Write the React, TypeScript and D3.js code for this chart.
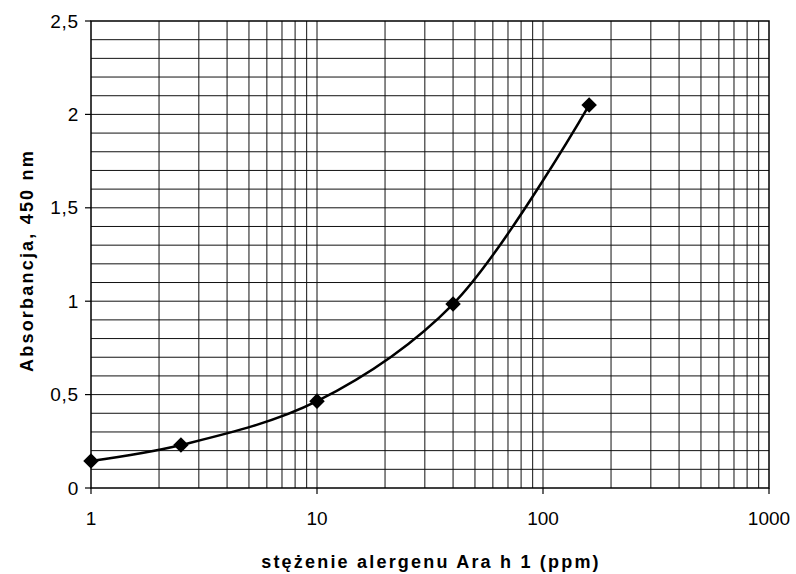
import * as d3 from "d3";

const concentration = [1, 2.5, 10, 40, 160];
const absorbance = [0.145, 0.23, 0.465, 0.985, 2.05];
const yTicks = [0, 0.5, 1, 1.5, 2, 2.5];
const xTicks = [1, 10, 100, 1000];

const W = 796;
const H = 574;
const M = { left: 91, right: 27, top: 21, bottom: 86 };

export default function App() {
  const x = d3.scaleLog().domain([1, 1000]).range([M.left, W - M.right]);
  const y = d3.scaleLinear().domain([0, 2.5]).range([H - M.bottom, M.top]);

  // minor log gridlines 2..9 in each decade, plus horizontal every 0.1
  const minorX: number[] = [];
  for (const d of [1, 10, 100]) for (let k = 2; k <= 9; k++) minorX.push(d * k);
  const minorY = d3.range(1, 25).map((i) => i / 10);

  const path = d3
    .line<number>()
    .x((_, i) => x(concentration[i]))
    .y((v) => y(v))
    .curve(d3.curveCatmullRom.alpha(0.5))(absorbance);

  const fmt = (v: number) => String(v).replace(".", ",");
  const font = "'Liberation Sans', Arial, sans-serif";

  return (
    <svg width={W} height={H} style={{ position: "absolute", left: 0, top: 0, background: "#fff" }}>
      <g stroke="#111" strokeWidth={1}>
        {minorX.map((v) => (
          <line key={"vx" + v} x1={x(v)} x2={x(v)} y1={y(0)} y2={y(2.5)} />
        ))}
        {[10, 100].map((v) => (
          <line key={"mx" + v} x1={x(v)} x2={x(v)} y1={y(0)} y2={y(2.5)} />
        ))}
        {minorY.map((v) => (
          <line key={"hy" + v} x1={x(1)} x2={x(1000)} y1={y(v)} y2={y(v)} />
        ))}
      </g>
      <rect x={x(1)} y={y(2.5)} width={x(1000) - x(1)} height={y(0) - y(2.5)} fill="none" stroke="#000" strokeWidth={1.5} />
      <g stroke="#000" strokeWidth={1.2}>
        {yTicks.map((v) => (
          <line key={"ty" + v} x1={x(1) - 6} x2={x(1)} y1={y(v)} y2={y(v)} />
        ))}
        {xTicks.map((v) => (
          <line key={"tx" + v} x1={x(v)} x2={x(v)} y1={y(0)} y2={y(0) + 6} />
        ))}
      </g>
      <g fontFamily={font} fontSize={19} fill="#000">
        {yTicks.map((v) => (
          <text key={"ly" + v} x={x(1) - 12} y={y(v)} dy="0.35em" textAnchor="end" letterSpacing={0.8}>
            {fmt(v)}
          </text>
        ))}
        {xTicks.map((v) => (
          <text key={"lx" + v} x={x(v)} y={y(0) + 37} textAnchor="middle">
            {v}
          </text>
        ))}
        <text x={(x(1) + x(1000)) / 2 + 1} y={568} textAnchor="middle" fontWeight="bold" fontSize={18} letterSpacing={2.2}>
          stężenie alergenu Ara h 1 (ppm)
        </text>
        <text
          transform={`translate(27, ${(y(0) + y(2.5)) / 2 + 6}) rotate(-90)`}
          textAnchor="middle"
          fontWeight="bold"
          fontSize={18}
          letterSpacing={2.2}
          dy="0.35em"
        >
          Absorbancja, 450 nm
        </text>
      </g>
      <path d={path ?? ""} fill="none" stroke="#000" strokeWidth={2.5} />
      {concentration.map((c, i) => (
        <rect
          key={"p" + c}
          x={x(c) - 5.5}
          y={y(absorbance[i]) - 5.5}
          width={11}
          height={11}
          fill="#000"
          transform={`rotate(45, ${x(c)}, ${y(absorbance[i])})`}
        />
      ))}
    </svg>
  );
}
